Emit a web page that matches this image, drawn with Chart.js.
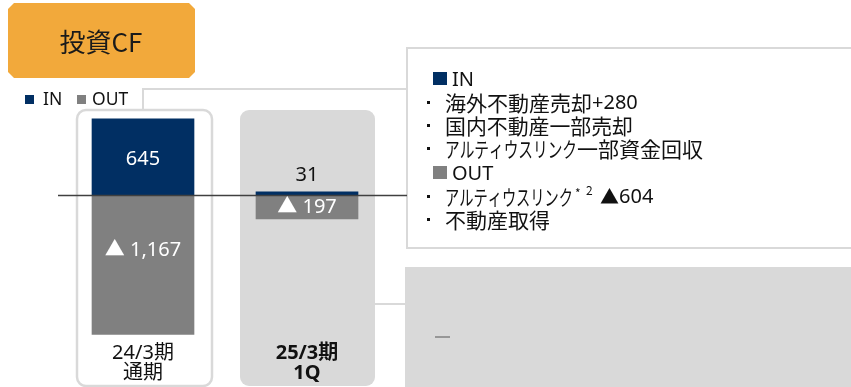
<!DOCTYPE html>
<html>
<head>
<meta charset="utf-8">
<script src="https://cdn.jsdelivr.net/npm/chart.js@4"></script>
<style>
  body { margin: 0; background: #fff; }
</style>
</head>
<body>
<canvas id="myChart" width="851" height="387"></canvas>
<script>
// data
const categories = [['24/3期', '通期'], ['25/3期', '1Q']];
const inValues = [645, 31];
const outValues = [-1167, -197];
const inLabels = ['645', '31'];
const outLabels = ['▲ 1,167', '▲ 197'];

const NAVY = '#012f63';
const GRAY = '#808080';
const LIGHT = '#d9d9d9';
const JP = "'Noto Sans CJK JP', sans-serif";
const LAT = "'Noto Sans', 'Noto Sans CJK JP', sans-serif";

function dot(ctx, y) {
    ctx.fillRect(427, y - 1, 3, 3);
}

// boxes, frames, connectors behind the bars
const decoBack = {
    id: 'decoBack',
    beforeDatasetsDraw(chart) {
        const c = chart.ctx;
        c.save();
        // orange title box
        c.fillStyle = '#f2a93b';
        c.beginPath();
        c.moveTo(14, 3); c.lineTo(189, 3); c.lineTo(195, 9); c.lineTo(195, 72);
        c.lineTo(189, 78); c.lineTo(14, 78); c.lineTo(8, 72); c.lineTo(8, 9);
        c.closePath();
        c.fill();
        c.fillStyle = '#1a1a1a';
        c.font = '26px ' + JP;
        c.textAlign = 'center';
        c.textBaseline = 'middle';
        c.fillText('投資CF', 101, 42);

        // legend
        c.textAlign = 'left';
        c.font = '17.5px ' + LAT;
        c.fillStyle = NAVY;
        c.fillRect(25, 95, 9, 9);
        c.fillStyle = '#111';
        c.fillText('IN', 43, 100);
        c.fillStyle = GRAY;
        c.fillRect(77, 95, 9, 9);
        c.fillStyle = '#111';
        c.fillText('OUT', 92, 100);

        // connectors
        c.strokeStyle = LIGHT;
        c.lineWidth = 2;
        c.beginPath();
        c.moveTo(143, 110); c.lineTo(143, 89); c.lineTo(407, 89);
        c.moveTo(375, 304); c.lineTo(405, 304);
        c.stroke();

        // frame around first bar
        c.fillStyle = '#fff';
        c.lineWidth = 2.5;
        c.beginPath();
        c.roundRect(77, 110, 135, 276, 9);
        c.fill();
        c.stroke();

        // gray panel behind second bar
        c.fillStyle = LIGHT;
        c.beginPath();
        c.roundRect(240, 110, 135, 276, 9);
        c.fill();

        // text box
        c.lineWidth = 2;
        c.strokeRect(407, 48, 470, 200);

        // lower gray box
        c.fillStyle = LIGHT;
        c.fillRect(405, 267, 446, 120);
        c.strokeStyle = GRAY;
        c.lineWidth = 1.5;
        c.beginPath();
        c.moveTo(435, 337); c.lineTo(450, 337);
        c.stroke();
        c.restore();
    },
    afterDatasetsDraw(chart) {
        const c = chart.ctx;
        const y0 = chart.scales.y.getPixelForValue(0);
        c.save();
        // zero line
        c.strokeStyle = '#404040';
        c.lineWidth = 1.5;
        c.beginPath();
        c.moveTo(58, y0); c.lineTo(407, y0);
        c.stroke();

        // value labels
        c.textAlign = 'center';
        c.textBaseline = 'middle';
        c.font = '20px ' + LAT;
        const inMeta = chart.getDatasetMeta(0);
        const outMeta = chart.getDatasetMeta(1);
        inMeta.data.forEach((bar, i) => {
            const h = bar.base - bar.y;
            if (h > 30) {
                c.fillStyle = '#fff';
                c.fillText(inLabels[i], bar.x, (bar.y + bar.base) / 2 + 2);
            } else {
                c.fillStyle = '#111';
                c.fillText(inLabels[i], bar.x, bar.y - 16);
            }
        });
        outMeta.data.forEach((bar, i) => {
            c.fillStyle = '#fff';
            const ly = Math.min((bar.y + bar.base) / 2, bar.base + 55);
            c.fillText(outLabels[i], bar.x, ly);
        });

        // category labels
        c.fillStyle = '#111';
        categories.forEach((cat, i) => {
            const x = chart.scales.x.getPixelForValue(i);
            c.font = (i === 1 ? 'bold ' : '') + '20px ' + LAT;
            c.fillText(cat[0], x, 353);
            c.fillText(cat[1], x, 373);
        });

        // text box contents
        c.textAlign = 'left';
        c.fillStyle = NAVY;
        c.fillRect(433, 72, 14, 13);
        c.fillStyle = '#111';
        c.font = '20px ' + LAT;
        c.fillText('IN', 452, 80);
        c.font = '21px ' + JP;
        dot(c, 102);
        c.fillText('海外不動産売却', 445, 103, 147);
        c.font = '20px ' + LAT;
        c.fillText('+280', 592, 103);
        c.font = '21px ' + JP;
        dot(c, 125);
        c.fillText('国内不動産一部売却', 445, 126, 188);
        dot(c, 148);
        c.fillText('アルティウスリンク', 445, 149, 132);
        c.fillText('一部資金回収', 577, 149, 131);
        c.fillStyle = GRAY;
        c.fillRect(433, 166, 14, 13);
        c.fillStyle = '#111';
        c.font = '20px ' + LAT;
        c.fillText('OUT', 452, 174);
        c.font = '21px ' + JP;
        dot(c, 196);
        c.fillText('アルティウスリンク', 445, 197, 128);
        c.font = '12px ' + JP;
        c.fillText('*', 575, 193);
        c.fillText('2', 586, 190);
        c.font = '19px ' + JP;
        c.fillText('▲', 600, 197);
        c.font = '20px ' + LAT;
        c.fillText('604', 619, 197);
        c.font = '21px ' + JP;
        dot(c, 219);
        c.fillText('不動産取得', 445, 220);
        c.restore();
    }
};

let ctx = document.getElementById('myChart');
let myChart = new Chart(ctx, {
    type: 'bar',
    data: {
        labels: categories,
        datasets: [{
            label: 'IN',
            data: inValues,
            backgroundColor: NAVY,
            borderWidth: 0,
            barThickness: 102
        }, {
            label: 'OUT',
            data: outValues,
            backgroundColor: GRAY,
            borderWidth: 0,
            barThickness: 102
        }]
    },
    options: {
        responsive: false,
        animation: false,
        layout: { padding: { left: 61, right: 462, top: 0, bottom: 0 } },
        scales: {
            x: { stacked: true, display: false },
            y: { stacked: true, display: false, min: -1610, max: 1643 }
        },
        plugins: {
            legend: { display: false },
            tooltip: { enabled: false }
        }
    },
    plugins: [decoBack]
});
</script>
</body>
</html>
